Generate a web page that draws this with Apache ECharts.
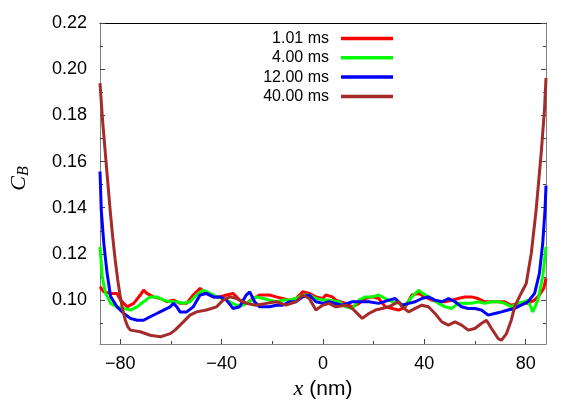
<!DOCTYPE html>
<html>
<head>
<meta charset="utf-8">
<script src="https://cdn.jsdelivr.net/npm/echarts@6/dist/echarts.min.js"></script>
<style>
html,body{margin:0;padding:0;background:#fff;}
#chart{width:581px;height:407px;}
</style>
</head>
<body>
<div id="chart"></div>
<script>
// ---- data ----
const seriesNames = ['1.01 ms', '4.00 ms', '12.00 ms', '40.00 ms'];
const seriesColors = ['#ff0000', '#00ff00', '#0000ff', '#a52a2a'];

const redX = [-88,-86.5,-83.8,-81.3,-79.9,-77.3,-74.7,-72.1,-70.8,-69.5,-66.9,-64.2,-61.6,-59,-56.4,-53.8,-51.2,-48.5,-46,-43.3,-40.7,-38.1,-35.5,-32.9,-30.3,-27.6,-25,-21.1,-18.5,-15.9,-13.3,-10.7,-8,-5.4,-2.8,0,1.1,3.7,5,8.9,11.6,14.2,16.8,19.4,22,24.6,27.3,29.9,32.5,35.1,37.7,40.3,42.9,45.5,48.2,50.8,53.4,56,58.6,61.2,63.8,66.5,69.1,71.7,74.3,76.9,79.5,80.9,83.5,85.4,87.1,88];
const redY = [0.1058,0.1036,0.1029,0.1029,0.1000,0.0971,0.0986,0.1022,0.1043,0.1029,0.1014,0.1007,0.0993,0.1000,0.0986,0.0986,0.1022,0.1051,0.1029,0.1014,0.1014,0.1022,0.1029,0.1000,0.0986,0.1007,0.1022,0.1022,0.1014,0.1007,0.1000,0.1007,0.1036,0.1029,0.1014,0.1007,0.1022,0.1014,0.1000,0.0986,0.0971,0.0986,0.1007,0.1014,0.1007,0.0971,0.0964,0.0957,0.0971,0.1022,0.1029,0.1014,0.1000,0.0993,0.0993,0.1000,0.1007,0.1014,0.1014,0.1007,0.0993,0.0993,0.0993,0.0993,0.0978,0.0986,0.0986,0.0986,0.1000,0.1022,0.1051,0.1094];

const greenX = [-88,-87.1,-85.8,-83.8,-81.3,-78.6,-76,-73.4,-70.8,-68.2,-65.6,-62.9,-60.3,-57.7,-55.1,-52.5,-49.9,-47.3,-44.6,-42,-39.4,-36.8,-34.2,-31.6,-28.9,-26.4,-23.7,-21.1,-18.5,-15.9,-13.3,-10.7,-8,-5.4,-2.8,0,2.4,6.3,8.9,11.6,14.2,16.8,19.4,22,24.6,27.3,29.9,32.5,35.1,37.7,40.3,42.9,45.5,48.2,50.8,53.4,56,58.6,61.2,63.8,66.5,69.1,71.7,74.3,76.9,79.5,80.9,82.8,84.8,86.7,88];
const greenY = [0.1231,0.1101,0.1029,0.0986,0.0971,0.0964,0.0957,0.0971,0.0993,0.1014,0.1014,0.1000,0.0993,0.0993,0.0986,0.0993,0.1022,0.1043,0.1029,0.1014,0.1007,0.0993,0.0978,0.0978,0.0993,0.1014,0.1007,0.1000,0.0993,0.1000,0.1000,0.1007,0.1022,0.1022,0.1007,0.1000,0.1000,0.0993,0.0971,0.0964,0.1000,0.1014,0.1014,0.1022,0.1007,0.0993,0.0986,0.0978,0.1014,0.1043,0.1022,0.1007,0.0986,0.0971,0.0964,0.0986,0.0986,0.0986,0.0993,0.0986,0.0993,0.0993,0.0986,0.0971,0.0986,0.0993,0.1000,0.0949,0.1000,0.1101,0.1231];

const blueX = [-88,-87.5,-86.5,-85.2,-83.8,-81.3,-78.6,-76,-73.4,-70.8,-68.2,-65.6,-62.9,-60.3,-59,-57.7,-56.4,-53.8,-51.2,-48.5,-46,-43.3,-40.7,-38.1,-35.5,-32.9,-30.3,-28.9,-27,-25,-21.1,-18.5,-15.9,-13.3,-10.7,-8,-5.4,-2.8,0,2.4,7.6,11.6,15.5,18.1,22,26,28.5,31.2,33.8,36.4,39,41.6,44.2,46.9,49.5,52.1,54.7,57.3,59.9,62.5,65.2,67.8,70.4,73,75.6,78.2,80.9,83.5,85.4,86.7,87.6,88];
const blueY = [0.1557,0.1390,0.1246,0.1116,0.1015,0.0971,0.0942,0.0921,0.0913,0.0913,0.0928,0.0942,0.0957,0.0971,0.0986,0.0971,0.0949,0.0949,0.0971,0.1022,0.1029,0.1014,0.1014,0.1000,0.0964,0.0971,0.1022,0.1036,0.0993,0.0971,0.0971,0.0978,0.0978,0.0993,0.0993,0.1014,0.1022,0.0993,0.0986,0.0993,0.0978,0.0993,0.0993,0.0993,0.0986,0.1000,0.1007,0.0978,0.0986,0.0993,0.1007,0.1014,0.1000,0.0993,0.1007,0.0993,0.0971,0.0964,0.0964,0.0957,0.0935,0.0942,0.0949,0.0957,0.0964,0.0978,0.0993,0.1029,0.1116,0.1246,0.1390,0.1496];

const brownX = [-88,-87,-86,-85,-84,-83,-82,-81,-80,-79,-78,-77,-76,-72.1,-68.2,-64.2,-60.3,-58.4,-55.1,-52.5,-49.9,-46,-42,-39.4,-36.8,-34.2,-30.3,-26.4,-22.4,-18.5,-14.6,-10.7,-8,-5.4,-2.8,-0.2,2.4,5,8.9,11.6,14.2,15.5,18.1,20.7,23.3,26,28.5,29.9,31.2,33.8,36.4,39,41.6,44.2,46.9,49.5,52.1,54.7,57.3,59.9,62.5,64.5,66.5,69.1,70.4,72.4,74.3,75.6,78.2,80.2,82.2,84.1,86.1,87.4,88];
const brownY = [0.1940,0.1780,0.1650,0.1520,0.1390,0.1275,0.1174,0.1087,0.1014,0.0957,0.0913,0.0884,0.0870,0.0863,0.0848,0.0841,0.0855,0.0870,0.0906,0.0935,0.0949,0.0957,0.0971,0.1000,0.1014,0.1007,0.0986,0.0978,0.0986,0.0993,0.0978,0.0993,0.1022,0.1007,0.0957,0.0978,0.0986,0.0971,0.0978,0.0964,0.0935,0.0921,0.0942,0.0957,0.0964,0.0971,0.0986,0.0993,0.0971,0.0949,0.0964,0.0978,0.0971,0.0942,0.0906,0.0892,0.0906,0.0892,0.0870,0.0877,0.0899,0.0913,0.0877,0.0834,0.0826,0.0855,0.0913,0.0971,0.1030,0.1072,0.1203,0.1390,0.1636,0.1824,0.1962];

const xMajorTicks = [-80, -40, 0, 40, 80];
const xMinorTicks = [-60, -20, 20, 60];
const yMajorTicks = [0.10, 0.12, 0.14, 0.16, 0.18, 0.20, 0.22];
const yMinorTicks = [0.09, 0.11, 0.13, 0.15, 0.17, 0.19, 0.21];

// ---- chart ----
const zip = (xs, ys) => xs.map((x, i) => [x, ys[i]]);
const allData = [zip(redX, redY), zip(greenX, greenY), zip(blueX, blueY), zip(brownX, brownY)];

const SANS = "'Liberation Sans', Arial, sans-serif";
const SERIF = "'Liberation Serif', 'DejaVu Serif', serif";
const grey = '#808080';
const tickCol = '#444';

function yAxisCfg(pos, ticks, len, showLine, showLabel) {
  return {
    type: 'value', position: pos, min: 0.081, max: 0.22,
    axisLine: { show: showLine, onZero: false, lineStyle: { color: grey, width: 1 } },
    axisTick: { show: true, inside: true, length: len, customValues: ticks, lineStyle: { color: tickCol } },
    axisLabel: { show: showLabel, customValues: ticks, margin: 13, fontSize: 18, color: '#000', fontFamily: SANS,
      formatter: v => v.toFixed(2) },
    splitLine: { show: false }
  };
}
function xAxisCfg(pos, ticks, len, showLine, showLabel, lineColor) {
  return {
    type: 'value', position: pos, min: -88, max: 88,
    axisLine: { show: showLine, onZero: false, lineStyle: { color: lineColor, width: 1 } },
    axisTick: { show: ticks.length > 0, inside: true, length: len, customValues: ticks.length ? ticks : [0], lineStyle: { color: tickCol } },
    axisLabel: { show: showLabel, customValues: ticks.length ? ticks : [0], margin: 11, fontSize: 18, color: '#000', fontFamily: SANS,
      formatter: v => (v < 0 ? '\u2212' + Math.abs(v) : String(v)) },
    splitLine: { show: false }
  };
}

const xMain = xAxisCfg('bottom', xMajorTicks, 5, true, true, grey);
xMain.name = '{i|x}{n| (nm)}';
xMain.nameLocation = 'middle';
xMain.nameGap = 30;
xMain.nameTextStyle = {
  color: '#000',
  rich: {
    i: { fontFamily: SERIF, fontStyle: 'italic', fontSize: 22, color: '#000' },
    n: { fontFamily: SANS, fontSize: 21, color: '#000' }
  }
};

const yMain = yAxisCfg('left', yMajorTicks, 5, true, true);
yMain.name = '{c|C}{b|B}';
yMain.nameLocation = 'middle';
yMain.nameRotate = 90;
yMain.nameGap = 68;
yMain.nameTextStyle = {
  color: '#000',
  padding: [0, 0, 0, 10],
  rich: {
    c: { fontFamily: SERIF, fontStyle: 'italic', fontSize: 22, lineHeight: 26, color: '#000' },
    b: { fontFamily: SERIF, fontStyle: 'italic', fontSize: 16, lineHeight: 16, verticalAlign: 'bottom', color: '#000' }
  }
};

const chart = echarts.init(document.getElementById('chart'), null, { renderer: 'canvas' });
chart.setOption({
  animation: false,
  backgroundColor: '#fff',
  grid: { left: 95, right: 35, top: 23, bottom: 63, containLabel: false },
  legend: {
    orient: 'vertical', align: 'right', right: 188, top: 29, padding: 0,
    itemWidth: 52, itemHeight: 3.5, itemGap: 0.3, icon: 'rect',
    data: seriesNames,
    textStyle: { fontSize: 16, color: '#000', fontFamily: SANS, lineHeight: 19, padding: [0, 7, 0, 0] },
    selectedMode: false
  },
  xAxis: [
    xMain,
    xAxisCfg('bottom', xMinorTicks, 3, false, false, grey),
    xAxisCfg('top', [], 0, true, false, '#000')
  ],
  yAxis: [
    yMain,
    yAxisCfg('left', yMinorTicks, 3, false, false),
    yAxisCfg('right', yMajorTicks, 5, true, false),
    yAxisCfg('right', yMinorTicks, 3, false, false)
  ],
  series: seriesNames.map((name, i) => ({
    name, type: 'line', xAxisIndex: 0, yAxisIndex: 0,
    data: allData[i], showSymbol: false, symbol: 'none',
    lineStyle: { width: 3, color: seriesColors[i] },
    itemStyle: { color: seriesColors[i] },
    z: 2 + i
  }))
});
</script>
</body>
</html>
